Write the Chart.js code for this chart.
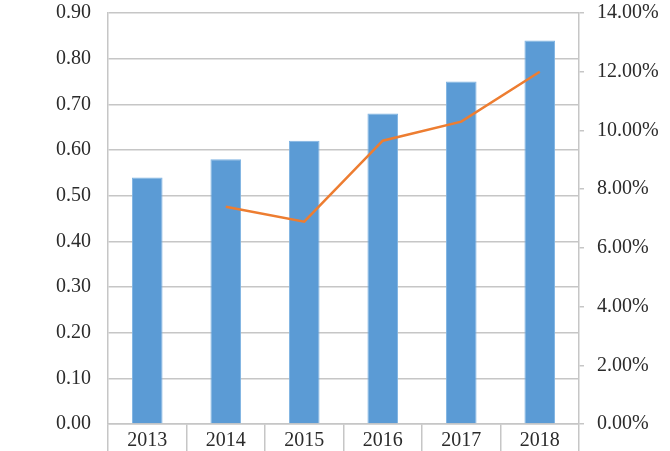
<!DOCTYPE html>
<html>
<head>
<meta charset="utf-8">
<script src="https://cdn.jsdelivr.net/npm/chart.js@4"></script>
<style>
  html, body { margin: 0; padding: 0; background: #fff; }
  #wrap { width: 670px; height: 451px; }
</style>
</head>
<body>
<div id="wrap"><canvas id="myChart" width="670" height="451"></canvas></div>
<script>
const years = ["2013", "2014", "2015", "2016", "2017", "2018"];
const barValues = [0.54, 0.58, 0.62, 0.68, 0.75, 0.84];
const growthPct = [null, 7.40, 6.89, 9.65, 10.30, 12.00];

const gridGray = '#c6c6c6';
const textColor = '#2b2b2b';
const font = { family: 'Liberation Serif', size: 20 };

// keep the plot area fixed, labels may hang over the edges
function fixSide(width) {
    return function (scale) {
        scale.width = width;
        scale.paddingTop = 0;
        scale.paddingBottom = 0;
    };
}

var ctx = document.getElementById("myChart");

var myChart = new Chart(ctx, {
    data: {
        labels: years,
        datasets: [
            {
                type: 'line',
                data: growthPct,
                yAxisID: 'y1',
                borderColor: '#ED7D31',
                borderWidth: 2.5,
                pointRadius: 0,
                tension: 0,
                spanGaps: false
            },
            {
                type: 'bar',
                data: barValues,
                yAxisID: 'y',
                backgroundColor: '#5B9BD5',
                borderColor: '#7FB3E2',
                borderWidth: 1,
                categoryPercentage: 1,
                barPercentage: 0.39
            }
        ]
    },
    options: {
        responsive: false,
        animation: false,
        layout: { padding: { top: 13, right: 0, left: 0, bottom: 0 } },
        plugins: {
            legend: { display: false },
            tooltip: { enabled: false }
        },
        scales: {
            x: {
                offset: true,
                grid: {
                    offset: true,
                    drawOnChartArea: false,
                    color: gridGray,
                    lineWidth: 1.5,
                    tickLength: 27
                },
                border: { color: gridGray, width: 1.5 },
                ticks: { font: font, color: textColor, padding: -22 },
                afterFit: function (scale) {
                    scale.height = 27;
                    scale.paddingLeft = 0;
                    scale.paddingRight = 0;
                }
            },
            y: {
                position: 'left',
                min: 0,
                max: 0.9,
                ticks: {
                    stepSize: 0.1,
                    font: font,
                    color: textColor,
                    padding: 17,
                    callback: function (v) { return v.toFixed(2); }
                },
                grid: { color: gridGray, lineWidth: 1.5, drawTicks: false },
                border: { color: gridGray, width: 1.5 },
                afterFit: fixSide(108)
            },
            y1: {
                position: 'right',
                min: 0,
                max: 14,
                ticks: {
                    stepSize: 2,
                    font: font,
                    color: textColor,
                    padding: 13,
                    callback: function (v) { return v.toFixed(2) + '%'; }
                },
                grid: { drawOnChartArea: false, color: gridGray, lineWidth: 1.5, tickLength: 5 },
                border: { color: gridGray, width: 1.5 },
                afterFit: fixSide(91)
            }
        }
    }
});
</script>
</body>
</html>
